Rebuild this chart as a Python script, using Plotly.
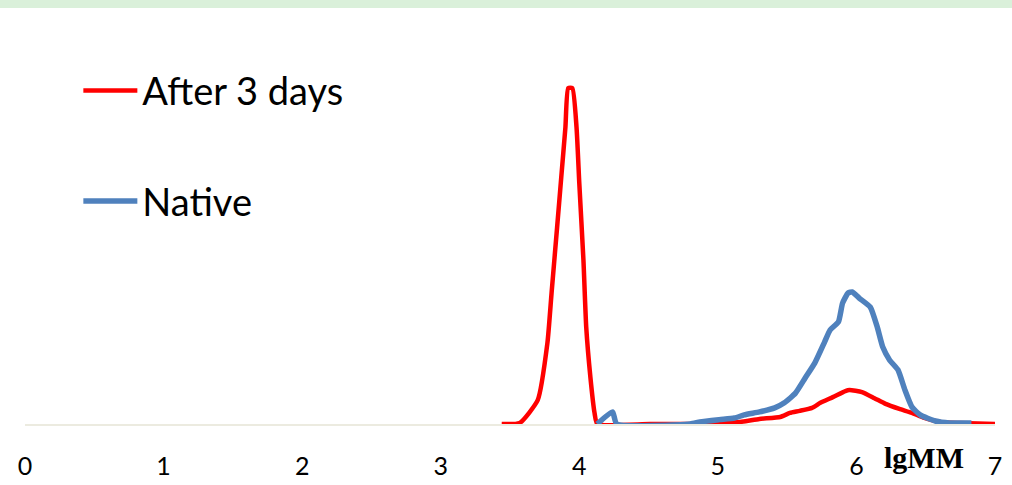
import plotly.graph_objects as go

# After 3 days (red)
red_x = [3.44, 3.57, 3.70, 3.77, 3.80, 3.84, 3.87, 3.90, 3.92, 3.95, 3.98, 4.00, 4.03, 4.05, 4.08, 4.11, 4.13,
         4.51, 4.87, 5.01, 5.16, 5.30, 5.45, 5.52, 5.59, 5.68, 5.74, 5.83, 5.92, 5.95, 6.04, 6.13, 6.21, 6.31,
         6.40, 6.49, 6.60, 6.75, 7.01]
red_y = [0, 0.3, 7.1, 24.1, 39.0, 58.6, 73.5, 88.4, 100, 100, 88.4, 71.7, 48.8, 28.9, 14.0, 3.3, 0,
         0, 0, 0.3, 0.6, 1.5, 2.1, 3.3, 3.9, 4.8, 6.3, 8.0, 9.8, 10.1, 9.5, 7.7, 6.0, 4.5,
         3.3, 1.8, 0.6, 0.3, 0]

# Native (blue)
blue_x = [4.13, 4.24, 4.27, 4.80, 4.87, 5.01, 5.12, 5.19, 5.30, 5.41, 5.48, 5.56, 5.63, 5.70, 5.77, 5.81,
          5.87, 5.90, 5.94, 5.97, 6.02, 6.10, 6.15, 6.19, 6.24, 6.30, 6.35, 6.40, 6.46, 6.57, 6.67, 6.83]
blue_y = [0, 3.6, 0, 0, 0.6, 1.3, 1.8, 2.7, 3.6, 4.8, 6.3, 9.2, 13.7, 18.2, 24.4, 28.0,
          30.4, 36.0, 39.0, 39.3, 37.5, 34.8, 28.9, 22.9, 19.0, 16.1, 10.1, 5.1, 2.7, 0.9, 0.3, 0.3]

tick_vals = [0, 1, 2, 3, 4, 5, 6, 7]
tick_text = ["0", "1", "2", "3", "4", "5", "6", "7"]

fig = go.Figure()
fig.add_trace(go.Scatter(x=red_x, y=red_y, mode="lines", name="After 3 days",
                         line=dict(color="#FF0000", width=4.5, shape="spline", smoothing=0.5),
                         legendgroup="a"))
fig.add_trace(go.Scatter(x=blue_x, y=blue_y, mode="lines", name="Native",
                         line=dict(color="#4F81BD", width=5.5, shape="spline", smoothing=0.5),
                         legendgroup="b"))

fig.update_layout(
    width=1012, height=485,
    margin=dict(l=25, r=17, t=21, b=61, autoexpand=False),
    paper_bgcolor="white", plot_bgcolor="white",
    font=dict(family="Lato", color="black"),
    xaxis=dict(range=[0, 7], tickvals=tick_vals, ticktext=tick_text, showgrid=False, zeroline=False,
               showline=True, linecolor="#ECEBE0", linewidth=2, automargin=False,
               ticks="outside", ticklen=19, tickcolor="rgba(0,0,0,0)",
               tickfont=dict(family="Lato", size=25, color="black")),
    yaxis=dict(range=[0, 120], visible=False, showgrid=False, zeroline=False),
    legend=dict(x=0.055, y=0.905, xanchor="left", yanchor="top", bgcolor="rgba(0,0,0,0)",
                font=dict(family="Lato", size=38, color="black"), tracegroupgap=58,
                itemwidth=54, traceorder="grouped"),
    showlegend=True,
    shapes=[dict(type="rect", xref="paper", yref="paper", x0=-0.03, x1=1.02, y0=1.032, y1=1.06,
                 fillcolor="#DAF0DA", line=dict(width=0), layer="below")],
    annotations=[dict(text="<b>lgMM</b>", x=6.49, y=0, xref="x", yref="y", yshift=-33,
                      showarrow=False, font=dict(family="Liberation Serif", size=30, color="black"))],
)

fig.write_html("out.html")
